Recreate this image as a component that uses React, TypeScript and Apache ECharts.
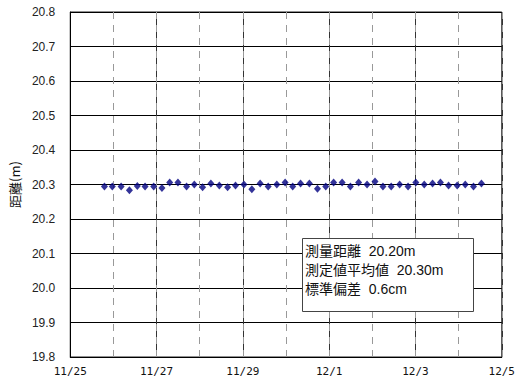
import React, { useEffect, useRef } from "react";
import * as echarts from "echarts";

// hours elapsed since 11/25 00:00 for each measurement
const hoursFromStart = [
  19.0, 23.4, 28.3, 32.9, 37.3, 41.6, 46.4, 51.0, 55.3, 59.9, 64.7, 69.0,
  73.6, 78.2, 82.9, 87.5, 91.9, 96.6, 101.0, 105.6, 110.1, 114.9, 119.5,
  123.7, 128.1, 133.0, 137.5, 142.1, 146.5, 151.2, 155.8, 160.4, 165.1, 169.5, 173.9,
  178.5, 183.2, 187.9, 192.2, 196.9, 201.5, 205.9, 210.4, 215.2, 219.7, 224.3, 228.7,
];
// measured distance (m)
const distances = [
  20.294, 20.294, 20.294, 20.283, 20.296, 20.294, 20.294, 20.29, 20.306, 20.306, 20.294, 20.3,
  20.292, 20.303, 20.297, 20.292, 20.297, 20.3, 20.286, 20.303, 20.294, 20.3, 20.306,
  20.294, 20.303, 20.303, 20.288, 20.294, 20.306, 20.306, 20.294, 20.306, 20.3, 20.309, 20.294,
  20.294, 20.3, 20.294, 20.306, 20.3, 20.303, 20.306, 20.297, 20.297, 20.3, 20.294, 20.303,
];
// x tick labels at day 0, 2, 4, 6, 8, 10
const xTickLabels = ["11/25", "11/27", "11/29", "12/1", "12/3", "12/5"];
const yAxisTitle = "距離(m)";
const infoLines = ["測量距離  20.20m", "測定値平均値  20.30m", "標準偏差  0.6cm"];

export default function App() {
  const ref = useRef<HTMLDivElement>(null);
  useEffect(() => {
    if (!ref.current) return;
    const chart = echarts.init(ref.current, undefined, { renderer: "svg" });
    const data = hoursFromStart.map((h, i) => [h / 24, distances[i]]);
    chart.setOption({
      animation: false,
      grid: { left: 66, right: 14, top: 12, bottom: 29, show: true, borderColor: "#222", borderWidth: 1 },
      xAxis: [
        {
          type: "value",
          min: 0,
          max: 10,
          interval: 2,
          axisLine: { show: true, lineStyle: { color: "#000" } },
          axisTick: { show: false },
          axisLabel: {
            margin: 9,
            fontFamily: "DejaVu Sans Mono",
            fontSize: 11,
            color: "#111",
            formatter: (v: number) => xTickLabels[Math.round(v / 2)] ?? "",
          },
          splitLine: { show: true, lineStyle: { color: "#333", width: 1 } },
        },
        {
          type: "value",
          min: 0,
          max: 10,
          interval: 1,
          position: "bottom",
          axisLine: { show: false },
          axisTick: { show: false },
          axisLabel: { show: false },
          splitLine: { show: true, lineStyle: { color: "#999", width: 1, type: [7, 6] } },
        },
      ],
      yAxis: {
        type: "value",
        min: 19.8,
        max: 20.8,
        interval: 0.1,
        name: yAxisTitle,
        nameLocation: "middle",
        nameRotate: 90,
        nameGap: 47,
        nameTextStyle: { fontFamily: "Noto Sans CJK JP", fontSize: 13, color: "#111" },
        axisLine: { show: true, lineStyle: { color: "#000" } },
        axisTick: { show: false },
        axisLabel: {
          margin: 15,
          fontFamily: "Liberation Sans",
          fontSize: 12,
          color: "#222",
          formatter: (v: number) => v.toFixed(1),
        },
        splitLine: { show: true, lineStyle: { color: "#000", width: 1 } },
      },
      series: [
        {
          type: "scatter",
          xAxisIndex: 0,
          data,
          symbol: "diamond",
          symbolSize: [7, 8],
          itemStyle: { color: "#000080" },
          z: 5,
        },
      ],
      graphic: [
        {
          type: "rect",
          left: 302,
          top: 238,
          shape: { width: 171, height: 73 },
          style: { fill: "#fff", stroke: "#444", lineWidth: 1 },
          z: 10,
        },
        {
          type: "text",
          left: 305,
          top: 241,
          style: {
            text: infoLines.join("\n"),
            fontFamily: "Liberation Sans, Noto Sans CJK JP",
            fontSize: 14,
            lineHeight: 19,
            fill: "#111",
          },
          z: 11,
        },
      ],
    });
    return () => chart.dispose();
  }, []);
  return <div ref={ref} style={{ position: "absolute", left: 0, top: 0, width: 518, height: 386 }} />;
}
